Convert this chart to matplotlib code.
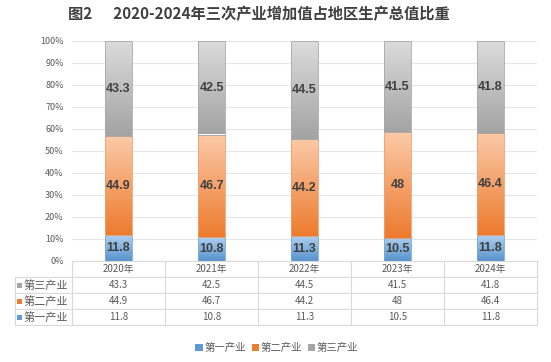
import numpy as np
import matplotlib
matplotlib.use('agg')
import matplotlib.pyplot as plt
from matplotlib.colors import LinearSegmentedColormap
from matplotlib.patches import Rectangle

plt.rcParams['font.family'] = ['Noto Sans CJK SC', 'DejaVu Sans']

years = ['2020年', '2021年', '2022年', '2023年', '2024年']
series = ['第一产业', '第二产业', '第三产业']
primary = [11.8, 10.8, 11.3, 10.5, 11.8]
secondary = [44.9, 46.7, 44.2, 48, 46.4]
tertiary = [43.3, 42.5, 44.5, 41.5, 41.8]
values = [primary, secondary, tertiary]

# gradient (top, bottom) and legend colours
grads = [('#aed0ef', '#5893cd'), ('#fbcaa8', '#ed7b2e'), ('#dcdcdc', '#a3a3a3')]
solid = ['#5b9bd5', '#ed7d31', '#a5a5a5']
edges = ['#7aa9d8', '#f0a070', '#a8a8a8']

fig = plt.figure(figsize=(5.51, 3.62), dpi=100)
W, H = 551, 362
L, R, T, B = 72, 537, 41, 261
ax = fig.add_axes([L / W, 1 - B / H, (R - L) / W, (B - T) / H])

x = np.arange(len(years))
bw = 0.29
bottom = np.zeros(len(years))
grad = np.linspace(0, 1, 256).reshape(-1, 1)
for i, vals in enumerate(values):
    bars = ax.bar(x, vals, bw, bottom=bottom, facecolor='none',
                  edgecolor=edges[i], linewidth=0.6, zorder=3)
    cmap = LinearSegmentedColormap.from_list('g%d' % i, [grads[i][1], grads[i][0]])
    for b in bars:
        x0, y0 = b.get_x(), b.get_y()
        im = ax.imshow(grad, cmap=cmap, aspect='auto', origin='lower',
                       extent=(x0, x0 + b.get_width(), y0, y0 + b.get_height()),
                       zorder=2, interpolation='bilinear')
        im.set_clip_path(b)
    for xi, v, b0 in zip(x, vals, bottom):
        ax.text(xi, b0 + v / 2, '%g' % v, ha='center', va='center',
                fontsize=9, fontweight='bold', color='#404040', zorder=4,
                family=['Liberation Sans'])
    bottom = bottom + np.array(vals)

ax.set_xlim(-0.5, len(years) - 0.5)
ax.set_ylim(0, 100)
ax.set_yticks(np.arange(0, 101, 10))
ax.set_yticklabels(['%d%%' % t for t in range(0, 101, 10)])
ax.tick_params(axis='y', length=0, labelsize=6.5, labelcolor='#595959', pad=6)
ax.set_xticks([])
ax.grid(axis='y', color='#e6e6e6', linewidth=0.8, zorder=0)
for s in ax.spines.values():
    s.set_visible(False)

# data table under the plot
line_c = '#d9d9d9'
row_h = 16
def fy(py):
    return 1 - py / H
def fx(px):
    return px / W
fig.add_artist(plt.Line2D([fx(L), fx(R)], [fy(B), fy(B)], color=line_c, lw=0.8))
for k in range(len(years) + 1):
    px = L + k * (R - L) / len(years)
    fig.add_artist(plt.Line2D([fx(px), fx(px)], [fy(B), fy(B + 4 * row_h)], color=line_c, lw=0.8))
fig.add_artist(plt.Line2D([fx(15), fx(15)], [fy(B + row_h), fy(B + 4 * row_h)], color=line_c, lw=0.8))
for r in range(1, 5):
    py = B + r * row_h
    fig.add_artist(plt.Line2D([fx(15), fx(R)], [fy(py), fy(py)], color=line_c, lw=0.8))

cw = (R - L) / len(years)
for k, yl in enumerate(years):
    fig.text(fx(L + (k + 0.5) * cw), fy(B + row_h / 2), yl, ha='center', va='center',
             fontsize=7, color='#595959')
rows = [2, 1, 0]
for r, si in enumerate(rows):
    cy = B + (r + 1.5) * row_h
    fig.add_artist(Rectangle((fx(17), fy(cy) - 2.5 / H), 5 / W, 5 / H,
                             facecolor=solid[si], edgecolor='none'))
    fig.text(fx(24), fy(cy), series[si], ha='left', va='center', fontsize=8,
             color='#595959')
    for k, v in enumerate(values[si]):
        fig.text(fx(L + (k + 0.5) * cw), fy(cy), '%g' % v, ha='center', va='center',
                 fontsize=7, color='#595959')

# legend
handles = [Rectangle((0, 0), 1, 1, facecolor=solid[i], edgecolor='none') for i in range(3)]
fig.legend(handles, series, loc='center', bbox_to_anchor=(fx(277), fy(348)), ncol=3,
           frameon=False, fontsize=7.5, handlelength=0.7, handleheight=0.7,
           handletextpad=0.2, columnspacing=0.5, labelcolor='#595959')

fig.text(fx(259), fy(14), '图2      2020-2024年三次产业增加值占地区生产总值比重',
         ha='center', va='center', fontsize=11, fontweight='bold', color='#404040')

fig.savefig('out.png', dpi=100)
